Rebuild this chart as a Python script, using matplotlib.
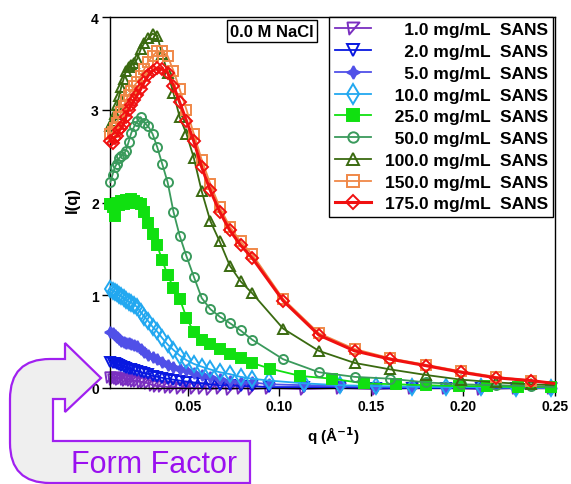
import matplotlib
matplotlib.use("Agg")
import matplotlib.pyplot as plt
from matplotlib.path import Path
from matplotlib.patches import PathPatch

plt.rcParams['font.family'] = ['Liberation Sans', 'DejaVu Sans']

W, H = 571, 485

# q grids (1/A)
q_low = [0.0078, 0.0090, 0.0102, 0.0114, 0.0126, 0.0138, 0.0150, 0.0163, 0.0177, 0.0192,
         0.0208, 0.0225, 0.0243, 0.0263, 0.0285, 0.0308, 0.0333, 0.0360, 0.0390, 0.0422,
         0.0456, 0.0493, 0.0533, 0.0576, 0.0623, 0.0674, 0.0729, 0.0788, 0.0852]
q_hi_a = [0.0945, 0.1135, 0.1330, 0.1525, 0.1720, 0.1910, 0.2100, 0.2290, 0.2480]
q_hi_b = [0.0946, 0.1113, 0.1288, 0.1460, 0.1636, 0.1800, 0.1980, 0.2130, 0.2300, 0.2480]
q_hi_c = [0.1020, 0.1215, 0.1410, 0.1605, 0.1800, 0.1990, 0.2180, 0.2370, 0.2495]

# I(q)
i_1 = [0.12, 0.10, 0.12, 0.11, 0.10, 0.11, 0.10, 0.09, 0.10, 0.09, 0.08, 0.08, 0.07, 0.06, 0.05,
       0.03, 0.02, 0.02, 0.01, 0.01, 0.00, 0.01, 0.00, 0.00, -0.01, 0.00, -0.01, 0.00, -0.01,
       0.00, -0.01, 0.00, -0.01, 0.00, 0.00, -0.01, 0.00, 0.00]
i_2 = [0.28, 0.27, 0.27, 0.26, 0.25, 0.24, 0.23, 0.22, 0.21, 0.20, 0.19, 0.18, 0.17, 0.16, 0.15,
       0.13, 0.12, 0.11, 0.10, 0.09, 0.08, 0.07, 0.06, 0.05, 0.04, 0.03, 0.03, 0.02, 0.02,
       0.01, 0.01, 0.01, 0.00, 0.00, 0.00, 0.00, 0.00, 0.00]
i_5 = [0.60, 0.59, 0.57, 0.55, 0.53, 0.51, 0.50, 0.49, 0.48, 0.47, 0.46, 0.45, 0.42, 0.39, 0.36,
       0.33, 0.31, 0.28, 0.25, 0.23, 0.21, 0.19, 0.16, 0.14, 0.12, 0.10, 0.08, 0.07, 0.06,
       0.04, 0.03, 0.02, 0.015, 0.01, 0.01, 0.005, 0.005, 0.00]
i_10 = [1.07, 1.05, 1.04, 1.02, 1.00, 0.99, 0.97, 0.95, 0.93, 0.92, 0.90, 0.87, 0.82, 0.77, 0.72,
        0.66, 0.61, 0.54, 0.47, 0.41, 0.35, 0.30, 0.26, 0.23, 0.20, 0.17, 0.15, 0.12, 0.10,
        0.08, 0.05, 0.03, 0.02, 0.015, 0.01, 0.01, 0.005, 0.005]
i_25 = [1.98, 1.95, 1.85, 2.00, 1.97, 2.02, 1.98, 2.03, 2.00, 2.04, 2.02, 2.00, 1.98, 1.90, 1.78,
        1.66, 1.54, 1.38, 1.22, 1.08, 0.96, 0.76, 0.60, 0.52, 0.47, 0.42, 0.37, 0.32, 0.27,
        0.21, 0.13, 0.10, 0.05, 0.04, 0.03, 0.02, 0.02, 0.01, 0.01]
i_50 = [2.22, 2.30, 2.38, 2.42, 2.48, 2.50, 2.52, 2.56, 2.65, 2.75, 2.82, 2.88, 2.92, 2.86, 2.82,
        2.74, 2.60, 2.42, 2.22, 1.90, 1.64, 1.42, 1.20, 0.97, 0.85, 0.77, 0.70, 0.62, 0.52,
        0.31, 0.17, 0.12, 0.10, 0.06, 0.04, 0.03, 0.02, 0.01]
i_100 = [2.83, 2.88, 2.95, 3.05, 3.15, 3.25, 3.33, 3.42, 3.46, 3.48, 3.50, 3.55, 3.65, 3.72, 3.77,
         3.82, 3.80, 3.60, 3.40, 3.18, 2.92, 2.74, 2.48, 2.12, 1.80, 1.58, 1.32, 1.15, 1.02,
         0.64, 0.40, 0.27, 0.20, 0.14, 0.09, 0.06, 0.04, 0.03]
i_150 = [2.74, 2.76, 2.80, 2.86, 2.92, 2.98, 3.04, 3.10, 3.16, 3.20, 3.26, 3.30, 3.36, 3.44, 3.52,
         3.58, 3.63, 3.63, 3.58, 3.42, 3.22, 3.00, 2.74, 2.46, 2.20, 1.95, 1.74, 1.58, 1.44,
         0.96, 0.59, 0.42, 0.32, 0.25, 0.18, 0.12, 0.08, 0.05]
i_175 = [2.66, 2.64, 2.70, 2.72, 2.78, 2.80, 2.85, 2.92, 3.00, 3.05, 3.10, 3.16, 3.22, 3.30, 3.37,
         3.42, 3.45, 3.44, 3.40, 3.26, 3.08, 2.88, 2.66, 2.38, 2.13, 1.90, 1.70, 1.54, 1.40,
         0.94, 0.57, 0.40, 0.31, 0.24, 0.17, 0.11, 0.08, 0.05]

conc = ['1.0', '2.0', '5.0', '10.0', '25.0', '50.0', '100.0', '150.0', '175.0']
colors = ['#7a2fc0', '#0818e0', '#5050e8', '#22a8f0', '#10e010',
          '#3a9a5c', '#3a6a10', '#f08848', '#f01010']

corner_tri = Path([(-1, 1), (1, 1), (-0.7, -1), (-1, 1)],
                  [Path.MOVETO, Path.LINETO, Path.LINETO, Path.CLOSEPOLY])

series = [
    (q_low + q_hi_a, i_1, corner_tri, 7.5, False, None),
    (q_low + q_hi_a, i_2, 'v', 7.5, False, None),
    (q_low + q_hi_a, i_5, (4, 1, 0), 8, True, None),
    (q_low + q_hi_a, i_10, 'd', 8.5, False, None),
    (q_low + q_hi_b, i_25, 's', 7.5, True, None),
    (q_low + q_hi_c, i_50, 'o', 6.5, False, slice(0, -1)),
    (q_low + q_hi_c, i_100, '^', 7, False, slice(0, -1)),
    (q_low + q_hi_c, i_150, 's', 7, False, slice(0, -1)),
    (q_low + q_hi_c, i_175, 'D', 6.5, False, slice(0, -1)),
]

fig = plt.figure(figsize=(W / 100, H / 100), dpi=100)


def px(x, y):
    return (x / W, 1 - y / H)


# "Form Factor" U-turn arrow behind the plot
verts = [(101, 379), (65, 413), (65, 400), (53, 400), (53, 442), (250, 442), (250, 484),
         (50, 484), (10, 484), (10, 444), (10, 400), (10, 360), (50, 360), (65, 360),
         (65, 344), (101, 379)]
codes = [Path.MOVETO, Path.LINETO, Path.LINETO, Path.LINETO, Path.LINETO, Path.LINETO,
         Path.LINETO, Path.LINETO, Path.CURVE3, Path.CURVE3, Path.LINETO, Path.CURVE3,
         Path.CURVE3, Path.LINETO, Path.LINETO, Path.CLOSEPOLY]
arrow = PathPatch(Path([px(*v) for v in verts], codes), transform=fig.transFigure,
                  facecolor='#efefef', edgecolor='#a020f0', lw=1.6, zorder=0)
fig.patches.append(arrow)
fig.text(*px(154, 465), 'Form Factor', color='#9a10f0', fontsize=22,
         ha='center', va='center')

ax = fig.add_axes([110 / W, 1 - 389 / H, (555 - 110) / W, (389 - 18) / H])
ax.patch.set_alpha(0)

handles = []
for k, (q, iq, mk, ms, filled, me) in enumerate(series):
    c = colors[k]
    line, = ax.plot(q, iq, color=c, lw=2.2 if k == 8 else 1.3, marker=mk, ms=ms,
                    mfc=c if filled else 'none', mec=c, mew=1.4,
                    markevery=me, clip_on=False, zorder=2 + k)
    handles.append(line)

ax.set_xlim(0.0076, 0.2502)
ax.set_ylim(0, 4)
ax.set_xticks([0.05, 0.10, 0.15, 0.20, 0.25])
ax.set_xticklabels(['0.05', '0.10', '0.15', '0.20', '0.25'])
ax.set_yticks([0, 1, 2, 3, 4])
ax.tick_params(direction='out', length=6, width=1, pad=2, labelsize=10)
for lab in ax.get_xticklabels() + ax.get_yticklabels():
    lab.set_fontweight('bold')
for sp in ax.spines.values():
    sp.set_linewidth(1)

fig.text(*px(72, 200), 'I(q)', rotation=90, ha='center', va='center',
         fontsize=12, fontweight='bold')
fig.text(*px(333, 436), r'q (Å$^{\mathbf{-1}}$)', ha='center', va='center',
         fontsize=11, fontweight='bold')

labels = []
for c in conc:
    pad = '\u2007' * (5 - len(c))
    labels.append(pad + c + ' mg/mL  SANS')
leg = ax.legend(handles, labels, loc='upper right', bbox_to_anchor=(0.996, 1.0),
                borderaxespad=0, fancybox=False, edgecolor='black', framealpha=1,
                prop={'weight': 'bold', 'size': 12.5}, labelspacing=0.38,
                handlelength=2.1, handletextpad=0.8, borderpad=0.3, markerscale=1.15)
leg.get_frame().set_linewidth(1)
leg.set_zorder(20)

ax.text(0.364, 0.962, '0.0 M NaCl', transform=ax.transAxes, ha='center', va='center',
        fontsize=12, fontweight='bold', zorder=21,
        bbox=dict(boxstyle='square,pad=0.2', facecolor='white', edgecolor='black', lw=1))

fig.savefig('out.png', dpi=100)
